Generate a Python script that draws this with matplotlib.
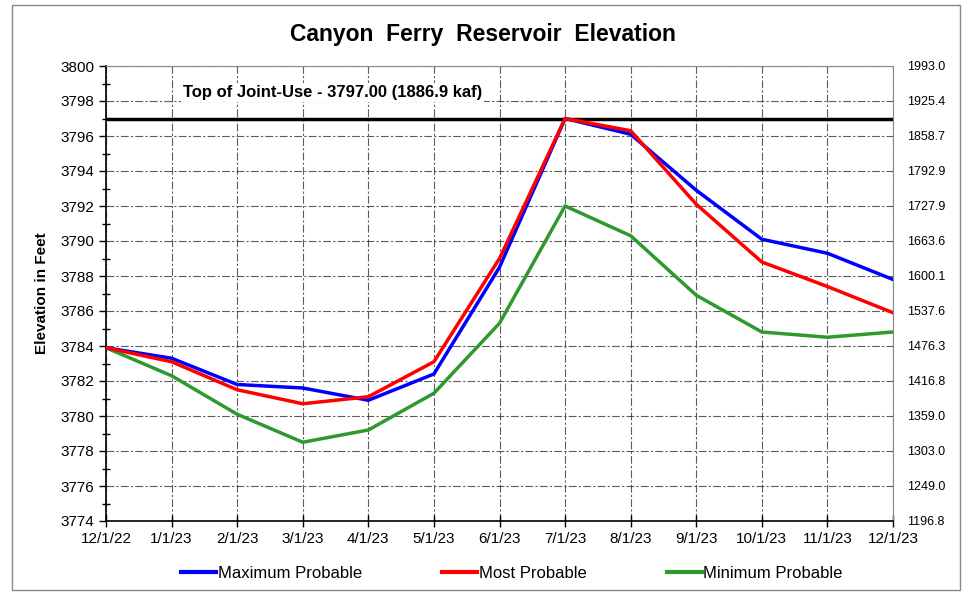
import matplotlib
matplotlib.use("Agg")
import matplotlib.pyplot as plt
from matplotlib.patches import Rectangle
from matplotlib.lines import Line2D

plt.rcParams['font.family'] = ['Liberation Sans', 'DejaVu Sans']

dates = ["12/1/22", "1/1/23", "2/1/23", "3/1/23", "4/1/23", "5/1/23", "6/1/23",
         "7/1/23", "8/1/23", "9/1/23", "10/1/23", "11/1/23", "12/1/23"]
max_prob = [3783.9, 3783.3, 3781.8, 3781.6, 3780.9, 3782.4, 3788.5,
            3797.0, 3796.1, 3792.9, 3790.1, 3789.3, 3787.8]
most_prob = [3783.9, 3783.1, 3781.5, 3780.7, 3781.1, 3783.1, 3789.0,
             3797.0, 3796.3, 3792.1, 3788.8, 3787.4, 3785.9]
min_prob = [3783.9, 3782.3, 3780.1, 3778.5, 3779.2, 3781.3, 3785.3,
            3792.0, 3790.3, 3786.9, 3784.8, 3784.5, 3784.8]
elev_ticks = list(range(3774, 3801, 2))
kaf_labels = ["1196.8", "1249.0", "1303.0", "1359.0", "1416.8", "1476.3", "1537.6",
              "1600.1", "1663.6", "1727.9", "1792.9", "1858.7", "1925.4", "1993.0"]
joint_use = 3797.0
joint_text = "Top of Joint-Use - 3797.00 (1886.9 kaf)"

fig = plt.figure(figsize=(9.71, 5.99), dpi=100)
fig.patches.append(Rectangle((12/971, 1-590/599), 948/971, 585/599, transform=fig.transFigure,
                             fill=False, edgecolor='#888888', linewidth=1.0))
ax = fig.add_axes([106/971, 1-521/599, 787/971, 455/599])
x = list(range(len(dates)))

ax.set_xlim(0, len(dates)-1)
ax.set_ylim(3774, 3800)
ax.set_yticks(elev_ticks)
ax.set_yticks(range(3775, 3800, 2), minor=True)
ax.set_xticks(x)
ax.set_xticklabels(dates)
ax.grid(True, which='major', color='#333333', linestyle=(0, (7, 2, 2, 2)), linewidth=0.8, alpha=0.8)
ax.tick_params(axis='y', which='major', direction='out', length=5, labelsize=11, width=1)
ax.tick_params(axis='y', which='minor', direction='inout', length=6, width=1)
ax.tick_params(axis='x', which='major', direction='inout', length=8, labelsize=11, width=1, pad=4)
for s in ['top', 'right']:
    ax.spines[s].set_color('#888888')
for s in ['left', 'bottom']:
    ax.spines[s].set_color('black')
    ax.spines[s].set_linewidth(1.2)

ax.axhline(joint_use, color='black', linewidth=2.5, zorder=3)
ax.text(1.17, 3798.05, joint_text, fontsize=12, fontweight='bold',
        ha='left', va='bottom',
        bbox=dict(facecolor='white', edgecolor='none', pad=1.5), zorder=4)

ax.plot(x, max_prob, color='#0000ff', linewidth=2.5, zorder=5, label='Maximum Probable')
ax.plot(x, most_prob, color='#ff0000', linewidth=2.5, zorder=6, label='Most Probable')
ax.plot(x, min_prob, color='#2e9a2e', linewidth=2.5, zorder=4, label='Minimum Probable')

ax.set_ylabel("Elevation in Feet", fontsize=11, fontweight='bold', labelpad=8)

ax2 = ax.twinx()
ax2.set_ylim(3774, 3800)
ax2.set_yticks(elev_ticks)
ax2.set_yticklabels(kaf_labels)
ax2.tick_params(axis='y', length=0, labelsize=9, pad=10)
for s in ax2.spines.values():
    s.set_visible(False)

fig.text(0.497, 1-35/599, "Canyon  Ferry  Reservoir  Elevation", ha='center', va='center',
         fontsize=16.5, fontweight='bold')

handles = [Line2D([], [], color='#0000ff', linewidth=3),
           Line2D([], [], color='#ff0000', linewidth=3),
           Line2D([], [], color='#2e9a2e', linewidth=3)]
fig.legend(handles, ['Maximum Probable', 'Most Probable', 'Minimum Probable'],
           loc='center', bbox_to_anchor=(512/971, 1-573/599), ncol=3, frameon=False,
           fontsize=12, handlelength=2.1, handletextpad=0.1, columnspacing=4.8)

fig.savefig("out.png", dpi=100)
